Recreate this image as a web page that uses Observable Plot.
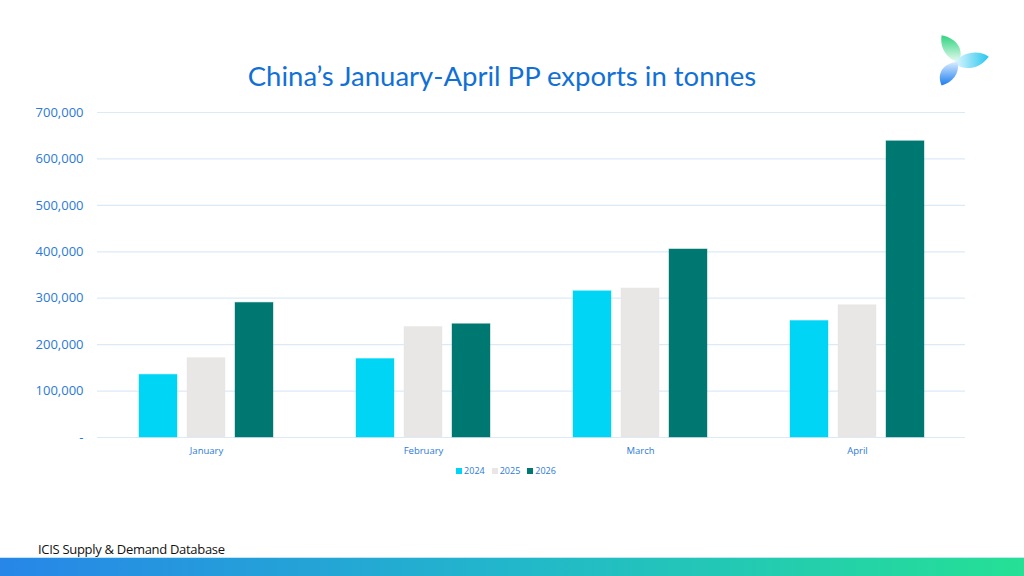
<!DOCTYPE html>
<html>
<head>
<meta charset="utf-8">
<script src="https://cdn.jsdelivr.net/npm/d3@7"></script>
<script src="https://cdn.jsdelivr.net/npm/@observablehq/plot@0.6"></script>
<style>
  html, body { margin: 0; padding: 0; background: #fff; }
  body { width: 1024px; height: 576px; position: relative; overflow: hidden; font-family: Lato, "Open Sans", sans-serif; }
  #title { position: absolute; top: 59px; left: -10px; width: 1024px; text-align: center; font-size: 27.5px; color: #1170d6; font-family: Lato, "Open Sans", sans-serif; }
  #chart { position: absolute; top: 100px; left: 0; }
  #legend { position: absolute; top: 464px; left: -6px; width: 1024px; display: flex; justify-content: center; gap: 7px; font-size: 9px; color: #2a7ad8; font-family: "Open Sans", sans-serif; }
  #legend span.item { display: inline-flex; align-items: center; gap: 2px; }
  #legend span.sw { display: inline-block; width: 6px; height: 6px; }
  #footer { position: absolute; top: 540px; left: 38px; font-size: 13px; letter-spacing: -0.3px; color: #111; font-family: "Liberation Sans Narrow", "Open Sans", sans-serif; }
  #band { position: absolute; left: 0; top: 557px; width: 1024px; height: 19px; background: linear-gradient(90deg, #2786e8 0%, #22b7cb 50%, #25e095 100%); border-top: 1px solid #bfe6f4; }
  #logo { position: absolute; left: 932px; top: 32px; }
</style>
</head>
<body>
<div id="title">China’s January-April PP exports in tonnes</div>
<svg id="logo" width="60" height="60" viewBox="0 0 56 56">
  <defs>
    <linearGradient id="g1" x1="0" y1="0" x2="0" y2="1"><stop offset="0" stop-color="#2fd37f"/><stop offset="1" stop-color="#e8fbf0"/></linearGradient>
    <linearGradient id="g2" x1="1" y1="0" x2="0" y2="0"><stop offset="0" stop-color="#27c6ee"/><stop offset="1" stop-color="#e8f8ff"/></linearGradient>
    <linearGradient id="g3" x1="0" y1="1" x2="0" y2="0"><stop offset="0" stop-color="#1a7cf0"/><stop offset="1" stop-color="#d8ecff"/></linearGradient>
  </defs>
  <path d="M9 3 C24 6 30 17 25 28 C13 25 7 14 9 3 Z" fill="url(#g1)"/>
  <path d="M53 23 C43 36 29 36 20 29 C28 19 43 16 53 23 Z" fill="url(#g2)"/>
  <path d="M9 50 C4 39 10 29 24 28 C26 39 19 47 9 50 Z" fill="url(#g3)"/>
</svg>
<div id="chart"></div>
<div id="legend"></div>
<div id="footer">ICIS Supply &amp; Demand Database</div>
<div id="band"></div>
<script>
const months = ["January", "February", "March", "April"];
const years = ["2024", "2025", "2026"];
const v2024 = [135000, 169000, 315000, 251000];
const v2025 = [171000, 238000, 321000, 285000];
const v2026 = [290000, 244000, 405000, 638000];
const colors = ["#00d5f6", "#e9e7e5", "#007872"];
const yTicks = [0, 100000, 200000, 300000, 400000, 500000, 600000, 700000];

const series = [v2024, v2025, v2026];
const tables = series.map((s, j) => months.map((m, i) => ({month: m, year: years[j], value: s[i]})));
const offsets = [-48, 0, 48];

const chart = Plot.plot({
  width: 1024,
  height: 367,
  marginTop: 12,
  marginBottom: 30,
  marginLeft: 97,
  marginRight: 59,
  style: {fontFamily: "'Open Sans', sans-serif", background: "transparent"},
  x: {domain: months, paddingInner: 0.825, paddingOuter: 0.4125, label: null},
  y: {domain: [0, 700000], label: null},
  marks: [
    Plot.ruleY(yTicks, {stroke: "#dceaf8", strokeWidth: 1.2}),
    Plot.axisY({ticks: yTicks, tickFormat: d => d === 0 ? "-" : d3.format(",")(d), tickSize: 0, tickPadding: 14, fill: "#2a7ad8", fontSize: 13, anchor: "left"}),
    Plot.axisX({anchor: "bottom", tickSize: 0, tickPadding: 10, fill: "#2a7ad8", fontSize: 9.5, label: null}),
    ...tables.map((t, j) => Plot.barY(t, {x: "month", y: "value", fill: colors[j], stroke: colors[j], strokeOpacity: 0.4, dx: offsets[j]}))
  ]
});
document.getElementById("chart").appendChild(chart);

const legend = document.getElementById("legend");
years.forEach((y, j) => {
  const item = document.createElement("span");
  item.className = "item";
  const sw = document.createElement("span");
  sw.className = "sw";
  sw.style.background = colors[j];
  item.appendChild(sw);
  item.appendChild(document.createTextNode(y));
  legend.appendChild(item);
});
</script>
</body>
</html>
